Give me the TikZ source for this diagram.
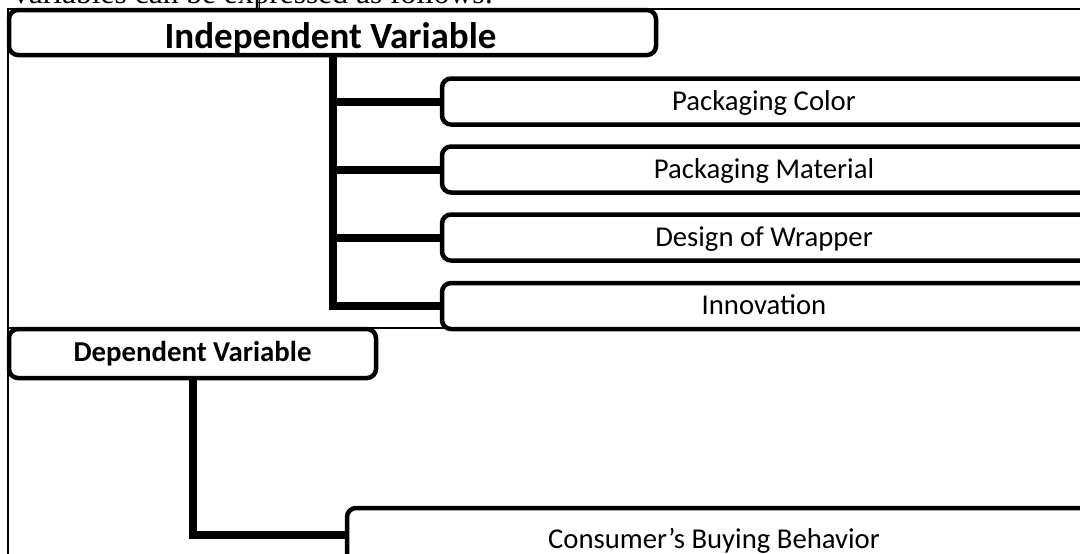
\documentclass[tikz,border=0pt]{standalone}
\usepackage{fontspec}
\setmainfont{Carlito}
\newfontfamily\serifdoc{Liberation Serif}
\pgfdeclarelayer{backmost}
\pgfdeclarelayer{links}
\pgfsetlayers{backmost,links,main}
\begin{document}
\begin{tikzpicture}[x=1pt,y=-1pt,
  box/.style={draw=black, line width=4.5pt, rounded corners=9pt, fill=white, inner sep=0pt},
  conn/.style={draw=black, line width=8pt, line join=miter},
  framebox/.style={draw=black, line width=1.1pt},
  lbl/.style={anchor=base, inner sep=0pt, font=\fontsize{28.7}{30}\selectfont},
  hdr/.style={anchor=base, inner sep=0pt, font=\bfseries\fontsize{37}{39}\selectfont},
  subhdr/.style={anchor=base, inner sep=0pt, font=\bfseries\fontsize{28.8}{30}\selectfont}]
\useasboundingbox (0,0) rectangle (1080,554);
\clip (0,0) rectangle (1080,554);

\begin{pgfonlayer}{backmost}
\fill[white] (0,0) rectangle (1080,554);
% thin frames
\draw[framebox] (8,9) rectangle (1100,328);
\draw[framebox] (8,328) rectangle (1100,600);
\end{pgfonlayer}

% intro text (cut off at top)
\node[anchor=base west, inner sep=0pt, font=\serifdoc\fontsize{31.5}{33}\selectfont] (intro) at (13,4) {variables can be expressed as follows:};
\coordinate (tickA) at (259,0);
\coordinate (tickB) at (259,9);
\draw[line width=1pt] (tickA) -- (tickB);

% boxes
\path
  (332.5,32.5)  node[box, minimum width=647pt, minimum height=45pt] (iv) {}
  (766,101.5)   node[box, minimum width=648pt, minimum height=46pt] (pc) {}
  (766,169.5)   node[box, minimum width=648pt, minimum height=46pt] (pm) {}
  (766,237.5)   node[box, minimum width=648pt, minimum height=46pt] (dw) {}
  (766,306)     node[box, minimum width=648pt, minimum height=46pt] (inn) {}
  (192.5,353.5) node[box, minimum width=367pt, minimum height=49pt] (dv) {}
  (723.5,540)   node[box, minimum width=753pt, minimum height=64pt] (cbb) {};

% texts
\node[hdr] (ivtext) at (330.5,48) {Independent Variable};
\node[lbl] (pctext) at (764,110) {Packaging Color};
\node[lbl] (pmtext) at (764,178) {Packaging Material};
\node[lbl] (dwtext) at (764,246) {Design of Wrapper};
\node[lbl] (inntext) at (764,314) {Innovation};
\node[subhdr] (dvtext) at (192.5,361) {Dependent Variable};
\node[lbl] (cbbtext) at (714,548) {Consumer’s Buying Behavior};

% connectors (behind the boxes)
\coordinate (ivtr) at (333,0);
\coordinate (dvtr) at (193,0);
\begin{pgfonlayer}{links}
\draw[conn] (iv.south -| ivtr) |- (inn.west);
\foreach \n in {pc,pm,dw} {
  \draw[conn] (ivtr |- \n.west) -- (\n.west);
}
\draw[conn] (dv.south -| dvtr) |- ([yshift=5pt]cbb.west);
\end{pgfonlayer}
\end{tikzpicture}
\end{document}
